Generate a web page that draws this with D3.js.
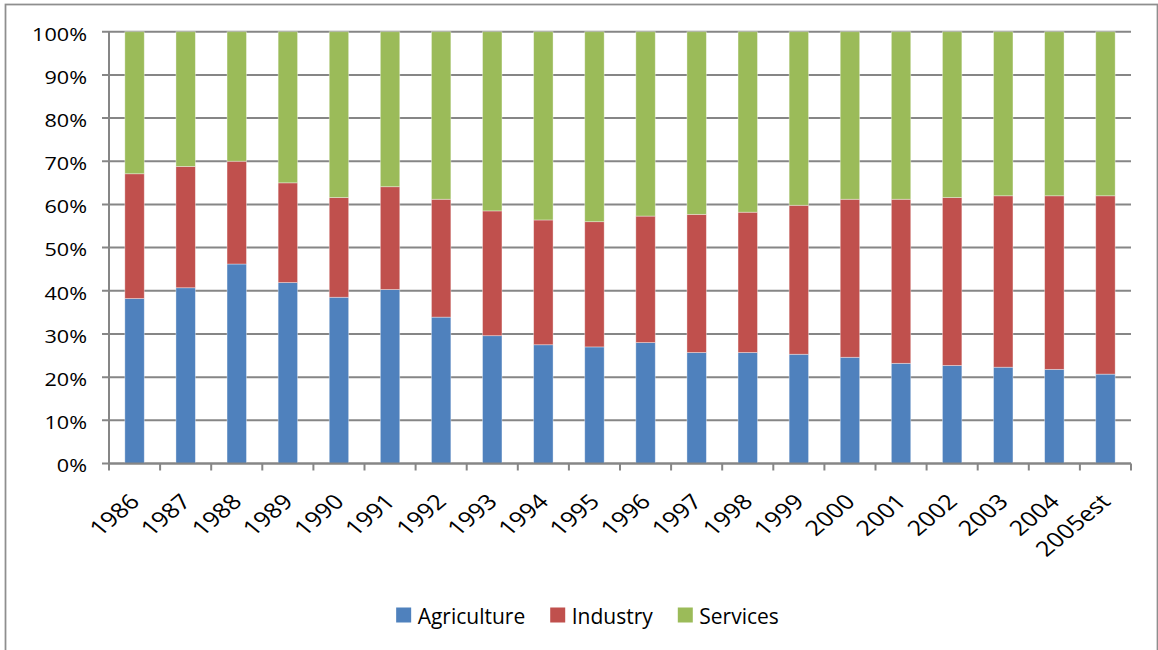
<!DOCTYPE html>
<html>
<head>
<meta charset="utf-8">
<script src="https://cdn.jsdelivr.net/npm/d3@7"></script>
<style>
  html, body { margin: 0; padding: 0; background: #fff; }
  text { font-family: "Open Sans", "Liberation Sans", sans-serif; fill: #000; }
</style>
</head>
<body>
<div id="graph"></div>
<script>
var width = 1158;
var height = 650;

// shares of GDP by sector, percent
var years = ["1986", "1987", "1988", "1989", "1990", "1991", "1992", "1993", "1994", "1995",
  "1996", "1997", "1998", "1999", "2000", "2001", "2002", "2003", "2004", "2005est"];
var agriculture = [38.2, 40.7, 46.2, 41.9, 38.5, 40.3, 33.9, 29.6, 27.5, 27.0,
  28.0, 25.7, 25.7, 25.3, 24.6, 23.2, 22.7, 22.3, 21.8, 20.7];
var industry = [28.9, 28.1, 23.8, 23.1, 23.1, 23.8, 27.3, 28.9, 28.9, 29.0,
  29.3, 32.0, 32.5, 34.5, 36.6, 38.0, 38.9, 39.7, 40.2, 41.3];
var services = [32.9, 31.2, 30.0, 35.0, 38.4, 35.9, 38.8, 41.5, 43.6, 44.0,
  42.7, 42.3, 41.8, 40.2, 38.8, 38.8, 38.4, 38.0, 38.0, 38.0];
var seriesNames = ["Agriculture", "Industry", "Services"];
var seriesColors = ["#4F81BD", "#C0504D", "#9BBB59"];
var yTicks = [0, 0.1, 0.2, 0.3, 0.4, 0.5, 0.6, 0.7, 0.8, 0.9, 1];

var rows = years.map(function (y, i) {
  return { year: y, Agriculture: agriculture[i], Industry: industry[i], Services: services[i] };
});

// plot box (window.top is read-only, so no "top" here)
var plotLeft = 109, plotRight = 1131, plotTop = 31.7, plotBottom = 463.5;
var gridColor = "#868686";
var stretch = 1.2; // the reference text is drawn a bit wide

var svg = d3.select("#graph").
  append("svg").
  attr("width", width).
  attr("height", height);

// chart frame
svg.append("rect").
  attr("x", 5.5).attr("y", 4.5).
  attr("width", 1152).attr("height", 700).
  attr("fill", "#fff").
  attr("stroke", "#8e8e8e").
  attr("stroke-width", 1.75);

var x = d3.scaleBand().
  domain(years).
  range([plotLeft, plotRight]).
  paddingInner(0.62).
  paddingOuter(0.31);

var y = d3.scaleLinear().
  domain([0, 1]).
  range([plotBottom, plotTop]);

var color = d3.scaleOrdinal(seriesNames, seriesColors);
var pct = d3.format(".0%");

// gridlines + y ticks
svg.append("g").
  selectAll("line").
  data(yTicks).
  enter().
  append("line").
  attr("x1", plotLeft - 7).
  attr("x2", plotRight).
  attr("y1", function (d) { return y(d); }).
  attr("y2", function (d) { return y(d); }).
  attr("stroke", gridColor).
  attr("stroke-width", 2);

svg.append("g").
  selectAll("text").
  data(yTicks).
  enter().
  append("text").
  attr("transform", function (d) { return "translate(87," + (y(d) + 8.8) + ") scale(" + stretch + ",1)"; }).
  attr("text-anchor", "end").
  style("font-size", "18px").
  text(function (d) { return pct(d); });

// stacked bars
var stack = d3.stack().keys(seriesNames).offset(d3.stackOffsetExpand);
var layers = stack(rows);

svg.append("g").
  selectAll("g").
  data(layers).
  enter().
  append("g").
  attr("fill", function (d) { return color(d.key); }).
  selectAll("rect").
  data(function (d) { return d; }).
  enter().
  append("rect").
  attr("x", function (d) { return x(d.data.year); }).
  attr("y", function (d) { return y(d[1]); }).
  attr("width", x.bandwidth()).
  attr("height", function (d) { return y(d[0]) - y(d[1]); }).
  attr("stroke", "#fff").
  attr("stroke-opacity", 0.45).
  attr("stroke-width", 0.8);

// axis lines
svg.append("line").
  attr("x1", plotLeft).attr("x2", plotLeft).
  attr("y1", plotTop).attr("y2", plotBottom).
  attr("stroke", gridColor).attr("stroke-width", 2);

svg.append("line").
  attr("x1", plotLeft).attr("x2", plotRight).
  attr("y1", plotBottom).attr("y2", plotBottom).
  attr("stroke", gridColor).attr("stroke-width", 2);

var xTickPos = years.map(function (d) { return x(d) - x.step() * x.paddingOuter(); });
xTickPos.push(plotRight);

svg.append("g").
  selectAll("line").
  data(xTickPos).
  enter().
  append("line").
  attr("x1", function (d) { return d; }).
  attr("x2", function (d) { return d; }).
  attr("y1", plotBottom).
  attr("y2", plotBottom + 7).
  attr("stroke", gridColor).
  attr("stroke-width", 2);

svg.append("g").
  selectAll("text").
  data(years).
  enter().
  append("text").
  attr("transform", function (d) {
    var cx = x(d) + x.bandwidth() / 2 + 6.5;
    return "translate(" + cx + ",503) scale(" + stretch + ",1) rotate(-45)";
  }).
  attr("text-anchor", "end").
  style("font-size", "21px").
  text(function (d) { return d; });

// legend
var legend = svg.append("g");
var items = legend.selectAll("g").
  data(seriesNames).
  enter().
  append("g");

items.append("rect").
  attr("width", 15).
  attr("height", 15).
  attr("y", 607.5).
  attr("fill", function (d) { return color(d); });

items.append("text").
  attr("x", 21.5).
  attr("y", 624).
  style("font-size", "21px").
  text(function (d) { return d; });

var offsets = [];
var pos = 0;
items.each(function () {
  offsets.push(pos);
  pos += 21.5 + d3.select(this).select("text").node().getComputedTextLength() + 25;
});
var total = pos - 25;
var startX = 587.5 - total / 2;
items.attr("transform", function (d, i) { return "translate(" + (startX + offsets[i]) + ",0)"; });
</script>
</body>
</html>
